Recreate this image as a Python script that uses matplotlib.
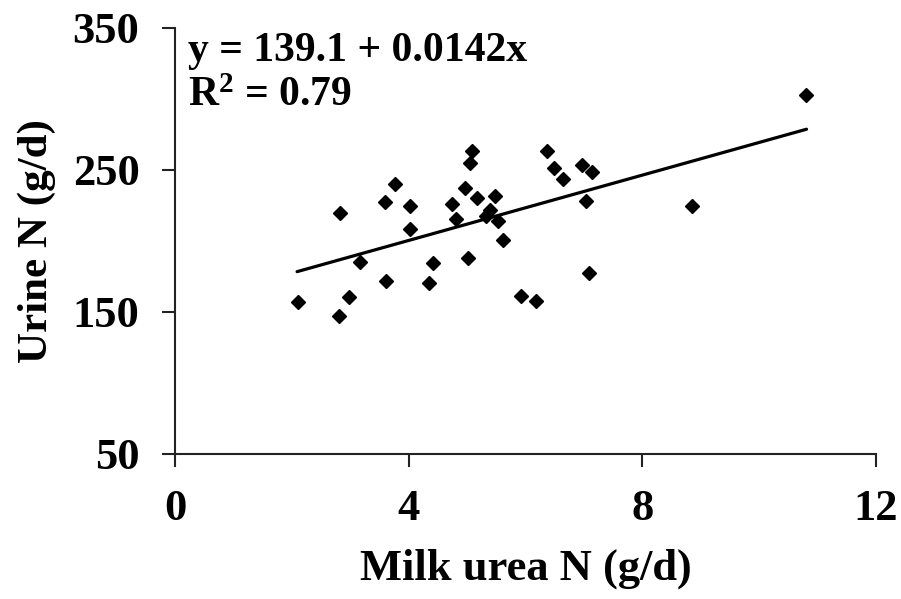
import matplotlib as mpl
mpl.use('Agg')
import matplotlib.pyplot as plt
import numpy as np

# milk urea N (g/d) vs urine N (g/d)
milk_urea_n = [2.11, 2.80, 2.82, 2.98, 3.17, 3.59, 3.61, 3.77, 4.03, 4.03,
               4.34, 4.42, 4.75, 4.81, 4.96, 5.02, 5.05, 5.08, 5.17, 5.32,
               5.39, 5.48, 5.53, 5.61, 5.92, 6.18, 6.37, 6.49, 6.64, 6.96,
               7.04, 7.08, 7.13, 8.85, 10.80]
urine_n = [156.8, 147.2, 219.6, 160.8, 184.9, 227.5, 171.8, 240.1, 224.9, 208.2,
           170.2, 184.3, 226.1, 215.5, 237.1, 187.8, 255.1, 263.6, 230.1, 217.6,
           221.8, 231.7, 214.1, 200.7, 161.5, 158.0, 263.6, 251.2, 243.4, 253.5,
           228.2, 177.3, 248.8, 224.6, 302.8]

# trend line as drawn
trend_x = [2.09, 10.81]
trend_y = [178.4, 278.7]

xticks = [0, 4, 8, 12]
yticks = [50, 150, 250, 350]
eq_text = "y = 139.1 + 0.0142x\nR$^\\mathregular{2}$ = 0.79"

mpl.rcParams.update({'font.family': 'Liberation Serif', 'font.weight': 'bold',
                     'font.size': 32, 'mathtext.default': 'regular'})

fig = plt.figure(figsize=(9.01, 5.99), dpi=100)
ax = fig.add_axes([0.1942, 0.2421, 0.7781, 0.7112])

ax.plot(milk_urea_n, urine_n, linestyle='none', marker='D', markersize=7.5,
        color='black', zorder=3)
ax.plot(trend_x, trend_y, color='black', linewidth=2.3, solid_capstyle='round')

ax.set_xlim(0, 12)
ax.set_ylim(50, 350)
ax.set_xticks(xticks)
ax.set_yticks(yticks)
ax.spines['top'].set_visible(False)
ax.spines['right'].set_visible(False)
for s in ('left', 'bottom'):
    ax.spines[s].set_linewidth(1.5)
    ax.spines[s].set_color('#222222')
ax.tick_params(direction='out', length=9.5, width=1.5, color='#222222',
               labelsize=32, pad=16)
for lab in ax.get_xticklabels() + ax.get_yticklabels():
    lab.set_fontweight('bold')

ax.set_xlabel("Milk urea N (g/d)", fontsize=32, fontweight='bold', labelpad=14)
ax.set_ylabel("Urine N (g/d)", fontsize=31, fontweight='bold', labelpad=12)

ax.text(0.018, 0.99, eq_text, transform=ax.transAxes, ha='left', va='top',
        fontsize=30, fontweight='bold', linespacing=1.22)

fig.savefig("out.png", dpi=100)
